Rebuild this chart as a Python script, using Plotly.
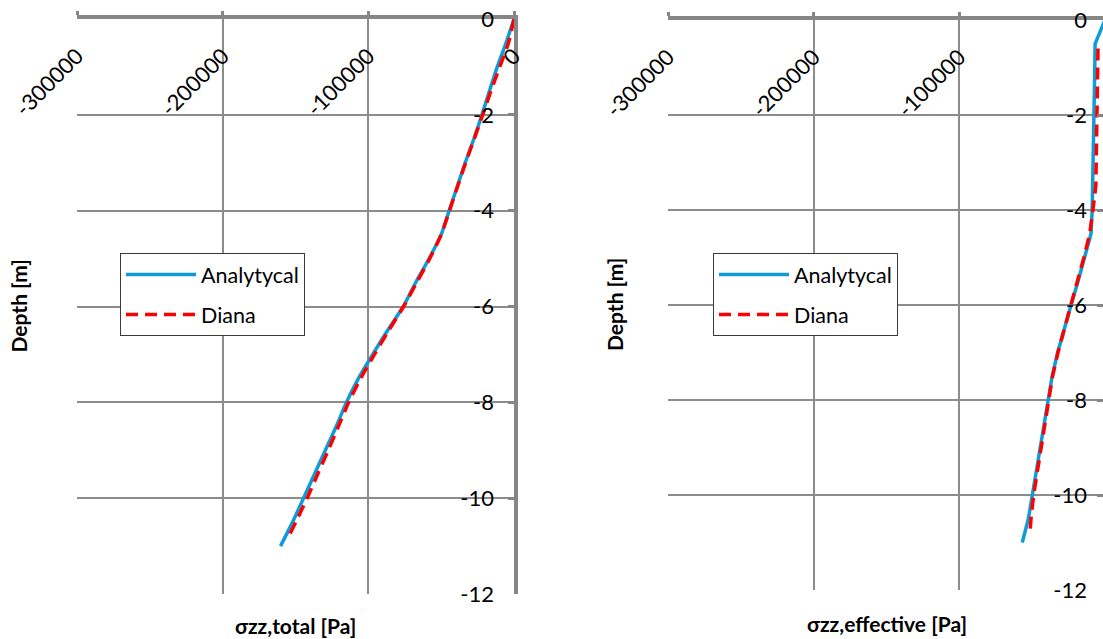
import plotly.graph_objects as go

# ---------------- data ----------------
depth_total_analytical = [0, -0.5, -1, -1.5, -2, -2.5, -3, -3.5, -4, -4.5, -5, -5.5, -6,
                          -6.5, -7, -7.5, -8, -8.5, -9, -9.5, -10, -10.5, -11]
stress_total_analytical = [0, -5500, -11500, -16800, -22000, -27500, -33500, -39000, -44500,
                           -50000, -58300, -67500, -76000, -86800, -97000, -106800, -115000,
                           -122000, -129500, -137000, -144500, -152000, -160300]

depth_total_diana = [0, -0.5, -1, -1.5, -2, -2.5, -3, -3.5, -4, -4.5, -5, -5.5, -6,
                     -6.5, -7, -7.5, -8, -8.5, -9, -9.5, -10, -10.5, -10.85]
stress_total_diana = [0, -3800, -9800, -15800, -21500, -27300, -33200, -38800, -44300,
                      -50000, -57800, -66800, -75800, -86000, -95800, -105200, -113500,
                      -120500, -127500, -134800, -142000, -149800, -155500]

depth_eff_analytical = [0, -0.5, -1, -2, -3, -4, -4.5, -5, -5.5, -6, -6.5, -7, -7.5,
                        -8, -8.5, -9, -9.5, -10, -10.5, -11]
stress_eff_analytical = [0, -6800, -7000, -7500, -8100, -8800, -9600, -13800, -18500, -23300,
                         -28200, -32500, -36300, -39000, -41800, -44500, -47200, -49800,
                         -52600, -56800]

depth_eff_diana = [-0.6, -1, -2, -3, -3.5, -4, -4.5, -5, -5.5, -6, -6.5, -7, -7.5,
                   -8, -8.5, -9, -9.5, -10, -10.5, -10.75]
stress_eff_diana = [-4800, -5000, -5500, -5900, -6300, -8300, -10500, -14500, -19000, -23500,
                    -28200, -32300, -36000, -38700, -41400, -44000, -46700, -49000, -50800,
                    -51400]

x_ticks = [-300000, -200000, -100000, 0]
x_tick_labels = ["-300000", "-200000", "-100000", "0"]
y_ticks = [0, -2, -4, -6, -8, -10, -12]
y_tick_labels = ["0", "-2", "-4", "-6", "-8", "-10", "-12"]

series_names = ["Analytycal", "Diana"]
x_titles = ["σzz,total [Pa]", "σzz,effective [Pa]"]
y_title = "Depth [m]"

# ---------------- style ----------------
W, H = 1103, 639
BLUE = "#0E9BD8"
RED = "#FF0000"
AX = "#868686"
GRID = "#8C8C8C"
FONT = "Lato"
TICKFONT = dict(family=FONT, size=22, color="black")

# plot areas (pixels)
L_X0, L_X1, L_Y0, L_Y1 = 77, 514, 19, 594
R_X0, R_Y0, R_Y1 = 668, 20, 590
px_per_unit = (L_X1 - L_X0) / 300000.0
r_x_end = -300000 + (W - R_X0) / px_per_unit


def fx(p):
    return p / W


def fy(p):
    return 1 - p / H


fig = go.Figure()

fig.add_trace(go.Scatter(x=stress_total_analytical, y=depth_total_analytical, mode="lines",
                         name=series_names[0],
                         line=dict(color=BLUE, width=3.5, shape="spline", smoothing=0.6),
                         xaxis="x", yaxis="y", legend="legend", legendgroup="a"))
fig.add_trace(go.Scatter(x=stress_total_diana, y=depth_total_diana, mode="lines",
                         name=series_names[1],
                         line=dict(color=RED, width=3.5, dash="12px,7px", shape="spline", smoothing=0.6),
                         xaxis="x", yaxis="y", legend="legend", legendgroup="d"))
fig.add_trace(go.Scatter(x=stress_eff_analytical, y=depth_eff_analytical, mode="lines",
                         name=series_names[0], line=dict(color=BLUE, width=3.5),
                         xaxis="x2", yaxis="y2", legend="legend2", legendgroup="a2"))
fig.add_trace(go.Scatter(x=stress_eff_diana, y=depth_eff_diana, mode="lines",
                         name=series_names[1], line=dict(color=RED, width=3.5, dash="12px,7px"),
                         xaxis="x2", yaxis="y2", legend="legend2", legendgroup="d2"))

# empty carriers so that the label-only overlay axes are drawn
fig.add_trace(go.Scatter(x=[], y=[], xaxis="x3", yaxis="y3", showlegend=False, hoverinfo="skip"))
fig.add_trace(go.Scatter(x=[], y=[], xaxis="x4", yaxis="y4", showlegend=False, hoverinfo="skip"))

common_x = dict(side="top", showline=True, linecolor=AX, linewidth=3.5,
                ticks="outside", ticklen=4, tickwidth=3, tickcolor=AX,
                showgrid=True, gridcolor=GRID, gridwidth=2, zeroline=False,
                showticklabels=False, tickvals=x_ticks, automargin=False)
common_y = dict(side="right", showline=True, linecolor=AX, linewidth=3.5,
                ticks="inside", ticklen=6, tickwidth=3, tickcolor=AX,
                showgrid=True, gridcolor=GRID, gridwidth=2, zeroline=False,
                showticklabels=False, tickvals=y_ticks, range=[-12, 0], automargin=False)
overlay_x = dict(anchor="free", side="bottom", tickvals=x_ticks, ticktext=x_tick_labels,
                 tickangle=-45, showgrid=False, showline=False, ticks="", zeroline=False,
                 tickfont=TICKFONT, ticklabelstandoff=19, automargin=False)
overlay_y = dict(anchor="free", side="left", range=[-12, 0], tickvals=y_ticks,
                 ticktext=y_tick_labels, showgrid=False, showline=False, ticks="",
                 zeroline=False, tickfont=TICKFONT, automargin=False)

legend_common = dict(yanchor="top", xanchor="left", bordercolor="#3A3A3A", borderwidth=1,
                     bgcolor="white", font=dict(family=FONT, size=21.5, color="black"),
                     tracegroupgap=9, itemwidth=70)

fig.update_layout(
    width=W, height=H,
    margin=dict(l=0, r=0, t=0, b=0, autoexpand=False),
    paper_bgcolor="white", plot_bgcolor="white",
    font=dict(family=FONT, size=20, color="black"),
    xaxis=dict(domain=[fx(L_X0), fx(L_X1)], range=[-300000, 0], anchor="y", **common_x),
    yaxis=dict(domain=[fy(L_Y1), fy(L_Y0)], anchor="x", **common_y),
    xaxis2=dict(domain=[fx(R_X0), 1.0], range=[-300000, r_x_end], anchor="y2", **common_x),
    yaxis2=dict(domain=[fy(R_Y1), fy(R_Y0)], anchor="x2", **common_y),
    xaxis3=dict(overlaying="x", position=fy(L_Y0), range=[-300000, 0], **overlay_x),
    xaxis4=dict(overlaying="x2", position=fy(R_Y0), range=[-300000, r_x_end], **overlay_x),
    yaxis3=dict(overlaying="y", position=fx(L_X1), ticklabelstandoff=20, **overlay_y),
    yaxis4=dict(overlaying="y2", position=1.0, ticklabelstandoff=16, **overlay_y),
    legend=dict(x=fx(120), y=fy(253), **legend_common),
    legend2=dict(x=fx(713), y=fy(253), **legend_common),
    showlegend=True,
)

title_font = dict(family=FONT, size=21, color="black", weight="bold")
annotations = [
    dict(text=x_titles[0], xref="x", x=-150000, yref="paper", y=fy(625),
         xanchor="center", yanchor="middle", showarrow=False, font=title_font),
    dict(text=x_titles[1], xref="x2", x=-150000, yref="paper", y=fy(623),
         xanchor="center", yanchor="middle", showarrow=False, font=title_font),
    dict(text=y_title, xref="paper", x=fx(18), yref="y", y=-6, textangle=-90,
         xanchor="center", yanchor="middle", showarrow=False, font=title_font),
    dict(text=y_title, xref="paper", x=fx(614), yref="y2", y=-6, textangle=-90,
         xanchor="center", yanchor="middle", showarrow=False, font=title_font),
]
fig.update_layout(annotations=annotations)

fig.write_html("out.html")
